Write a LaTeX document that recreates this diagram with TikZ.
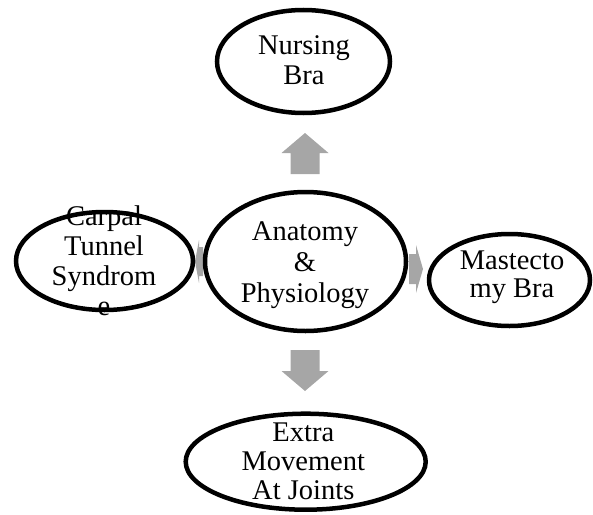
\documentclass[tikz,border=0pt]{standalone}
\usepackage{fontspec}
\setmainfont{Liberation Serif}
\usetikzlibrary{shapes.geometric}
\definecolor{arrowfill}{RGB}{166,166,166}
\begin{document}
\begin{tikzpicture}[x=1pt,y=-1pt,
  bubble/.style={ellipse, draw=black, line width=4.5pt, fill=white, inner sep=0pt},
  caption/.style={align=center, inner sep=0pt, font=\fontsize{28.5}{30}\selectfont},
  blockarrow/.style={fill=arrowfill}]
\useasboundingbox (0,0) rectangle (593,514);

% block arrows, partly hidden behind the bubbles
\fill[blockarrow] (305,133) -- (328.5,153) -- (319.5,153) -- (319.5,174)
  -- (290.5,174) -- (290.5,153) -- (281.5,153) -- cycle;
\fill[blockarrow] (305,391) -- (328.5,371) -- (319.5,371) -- (319.5,350)
  -- (290.5,350) -- (290.5,371) -- (281.5,371) -- cycle;
\fill[blockarrow] (195,261.5) -- (199,240) -- (199,247) -- (203,247)
  -- (203,276) -- (199,276) -- (199,283) -- cycle;
\fill[blockarrow] (423,269) -- (416,245) -- (416,254) -- (409,254)
  -- (409,284) -- (416,284) -- (416,293) -- cycle;

% bubbles
\node[bubble, minimum width=173pt, minimum height=103pt] (nurse) at (303.5,61.5) {};
\node[bubble, minimum width=201pt, minimum height=139pt] (core) at (305.5,261.5) {};
\node[bubble, minimum width=177pt, minimum height=98pt] (carpal) at (104.5,261) {};
\node[bubble, minimum width=161pt, minimum height=92pt] (mast) at (509.5,280) {};
\node[bubble, minimum width=240pt, minimum height=96pt] (joints) at (305.7,461.7) {};

% captions
\node[caption] (nursetext) at (304,60.6) {Nursing\\Bra};
\node[caption, font=\fontsize{28.5}{31}\selectfont] (coretext) at (305,264.8) {Anatomy\\\&\\Physiology};
\node[caption] (carpaltext) at (104,260.6) {Carpal\\Tunnel\\Syndrom\\e};
\node[caption, font=\fontsize{28.5}{28}\selectfont] (masttext) at (512,277.5) {Mastecto\\my Bra};
\node[caption, font=\fontsize{28.5}{29}\selectfont] (jointstext) at (303.3,461.7) {Extra\\Movement\\At Joints};
\end{tikzpicture}
\end{document}
